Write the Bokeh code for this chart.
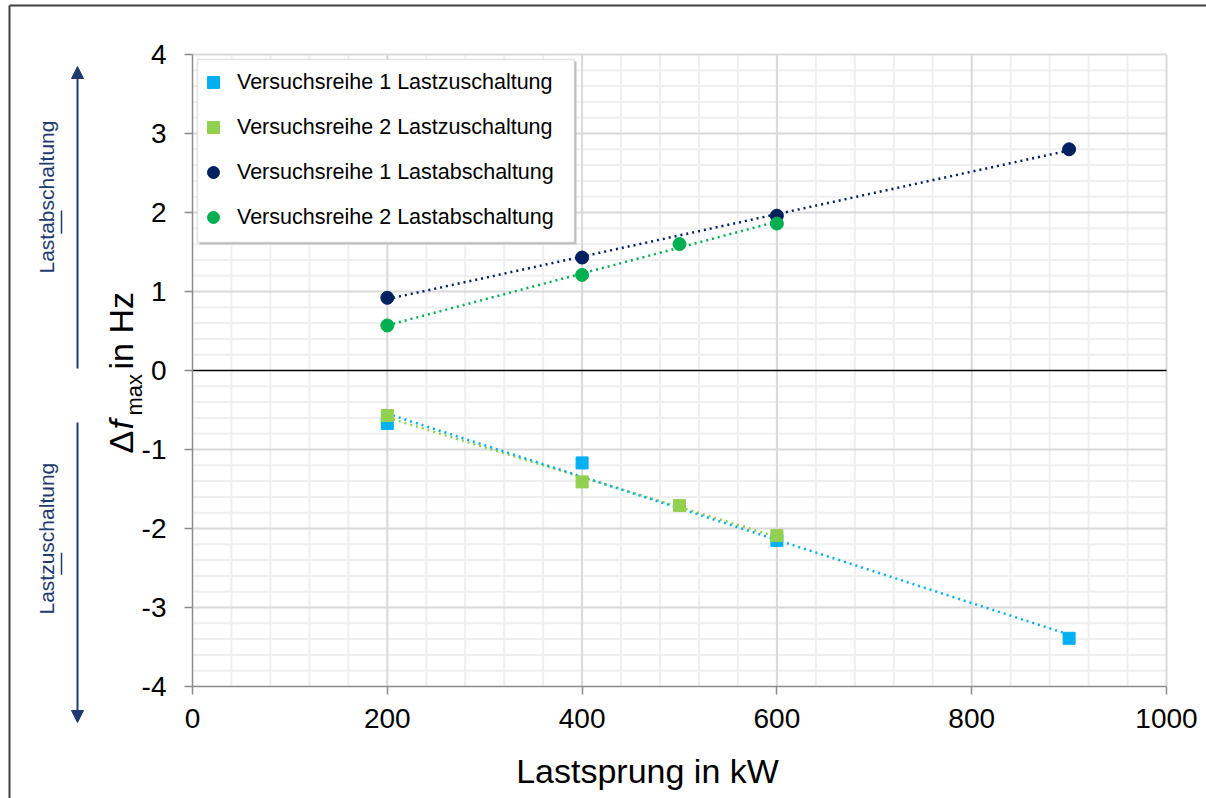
import numpy as np
from bokeh.plotting import figure
from bokeh.models import (Range1d, FixedTicker, Label, Arrow, NormalHead,
                          Legend, BoxAnnotation, CustomJSTickFormatter)
from bokeh.embed import file_html
from bokeh.resources import INLINE

# ---------------- data ----------------
x_r1_zu = [200, 400, 600, 900]
y_r1_zu = [-0.67, -1.17, -2.15, -3.39]
x_r2_zu = [200, 400, 500, 600]
y_r2_zu = [-0.57, -1.41, -1.71, -2.09]
x_r1_ab = [200, 400, 600, 900]
y_r1_ab = [0.92, 1.43, 1.96, 2.80]
x_r2_ab = [200, 400, 500, 600]
y_r2_ab = [0.57, 1.21, 1.60, 1.86]

labels = ["Versuchsreihe 1 Lastzuschaltung", "Versuchsreihe 2 Lastzuschaltung",
          "Versuchsreihe 1 Lastabschaltung", "Versuchsreihe 2 Lastabschaltung"]
x_ticks = [0, 200, 400, 600, 800, 1000]
y_ticks = [-4, -3, -2, -1, 0, 1, 2, 3, 4]

C_BLUE = "#00B0F0"
C_LGREEN = "#92D050"
C_NAVY = "#002060"
C_GREEN = "#00B050"
C_TEXT_NAVY = "#1F3A70"
FONT = "Liberation Sans"

# ---------------- layout ----------------
W, H = 1206, 798
PL, PR, PT, PB = 192, 1166, 54, 686        # plot area in canvas pixels
XMIN, XMAX, YMIN, YMAX = 0, 1000, -4, 4


def dx(px):  # canvas pixel -> data x (annotation placement)
    return XMIN + (px - PL) / (PR - PL) * (XMAX - XMIN)


def dy(py):  # canvas pixel -> data y
    return YMAX - (py - PT) / (PB - PT) * (YMAX - YMIN)


p = figure(width=W, height=H, output_backend="svg", toolbar_location=None,
           x_range=Range1d(dx(0), dx(W)), y_range=Range1d(dy(H), dy(0)),
           min_border=0, min_border_left=0, min_border_right=0,
           min_border_top=0, min_border_bottom=0)
p.outline_line_color = None
p.background_fill_color = "white"
p.border_fill_color = "white"
p.xgrid.visible = False
p.ygrid.visible = False

# ---------------- grid ----------------
minor_x = [v for v in np.arange(XMIN, XMAX + 1, 40) if v not in x_ticks]
minor_y = [round(v, 2) for v in np.arange(YMIN, YMAX + 0.01, 0.2)
           if round(v, 2) not in y_ticks]
p.segment(x0=minor_x, x1=minor_x, y0=YMIN, y1=YMAX, line_color="#EFEFEF",
          line_width=2)
p.segment(x0=XMIN, x1=XMAX, y0=minor_y, y1=minor_y, line_color="#EFEFEF",
          line_width=2)
p.segment(x0=x_ticks[1:], x1=x_ticks[1:], y0=YMIN, y1=YMAX,
          line_color="#D9D9D9", line_width=2)
major_y = [t for t in y_ticks if t not in (0, YMIN)]
p.segment(x0=XMIN, x1=XMAX, y0=major_y, y1=major_y,
          line_color="#D9D9D9", line_width=2)
p.segment(x0=[XMIN], x1=[XMAX], y0=[0], y1=[0], line_color="black",
          line_width=1.5)

# ---------------- axes ----------------
fmt = CustomJSTickFormatter(code="return String(tick);")
p.xaxis.fixed_location = YMIN
p.yaxis.fixed_location = XMIN
p.xaxis.bounds = (XMIN, XMAX)
p.yaxis.bounds = (YMIN, YMAX)
p.xaxis.ticker = FixedTicker(ticks=x_ticks, minor_ticks=[])
p.yaxis.ticker = FixedTicker(ticks=y_ticks, minor_ticks=[])
for ax in (p.xaxis[0], p.yaxis[0]):
    ax.formatter = fmt
    ax.axis_line_color = "#8C8C8C"
    ax.axis_line_width = 1.5
    ax.major_tick_line_color = "#8C8C8C"
    ax.major_tick_line_width = 1.5
    ax.major_tick_out = 8
    ax.major_tick_in = 0
    ax.minor_tick_line_color = None
    ax.major_label_text_font = FONT
    ax.major_label_text_font_size = "28px"
    ax.major_label_text_color = "black"
p.xaxis.major_label_standoff = 14
p.yaxis.major_label_standoff = 18

# ---------------- trend lines ----------------
series = [
    (x_r1_zu, y_r1_zu, C_BLUE),
    (x_r2_zu, y_r2_zu, C_LGREEN),
    (x_r1_ab, y_r1_ab, C_NAVY),
    (x_r2_ab, y_r2_ab, C_GREEN),
]
for order in (1, 0, 2, 3):
    xs, ys, col = series[order]
    k, d = np.polyfit(xs, ys, 1)
    xe = [min(xs), max(xs)]
    p.line(xe, [k * v + d for v in xe], line_color=col, line_width=2.5,
           line_dash="2 4")

# ---------------- markers ----------------
r1 = p.scatter(x_r1_zu, y_r1_zu, marker="square", size=12, color=C_BLUE)
r2 = p.scatter(x_r2_zu, y_r2_zu, marker="square", size=12, color=C_LGREEN)
r3 = p.scatter(x_r1_ab, y_r1_ab, marker="circle", size=13, color=C_NAVY)
r4 = p.scatter(x_r2_ab, y_r2_ab, marker="circle", size=13, color=C_GREEN)

# ---------------- legend ----------------
p.add_layout(BoxAnnotation(left=dx(199), right=dx(576), top=dy(61),
                           bottom=dy(244), fill_color="#BFBFBF",
                           fill_alpha=1.0, line_color=None))
p.add_layout(BoxAnnotation(left=dx(197), right=dx(574), top=dy(59),
                           bottom=dy(242), fill_color="white", fill_alpha=1.0,
                           line_color="#A6A6A6", line_width=1.5))
legend = Legend(items=[(labels[0], [r1]), (labels[1], [r2]),
                       (labels[2], [r3]), (labels[3], [r4])],
                location=(198, H - 232), margin=0, padding=0, spacing=15,
                glyph_width=30, glyph_height=30, label_height=30,
                label_standoff=9,
                label_text_font=FONT, label_text_font_size="21.5px",
                label_text_color="black", label_text_baseline="middle",
                border_line_color=None, background_fill_alpha=0.0)
p.add_layout(legend)

# ---------------- texts ----------------
ang = np.pi / 2
BSHIFT = 0.55   # empirical offset of rotated alphabetic baseline (in em)


def vlabel(base_px, start_py, text, size, color="black", style="normal"):
    p.add_layout(Label(x=dx(base_px - BSHIFT * size), y=dy(start_py),
                       text=text, angle=ang, text_font=FONT,
                       text_font_size=f"{size}px", text_font_style=style,
                       text_color=color, text_align="left",
                       text_baseline="alphabetic"))


vlabel(139, 453, "Δ", 34)
vlabel(139, 429, "f", 34, style="italic")
vlabel(146, 415, "max", 22)
vlabel(139, 369, "in Hz", 34)

p.add_layout(Label(x=dx(647), y=dy(770), text="Lastsprung in kW",
                   text_font=FONT, text_font_size="34px", text_color="black",
                   text_align="center", text_baseline="middle"))

fs = 21
w_last = (0.556 + 0.556 + 0.5 + 0.278) * fs
for txt, start_py, ul_len in (("Lastabschaltung", 273, (0.556 + 0.556) * fs),
                              ("Lastzuschaltung", 614, (0.5 + 0.556) * fs)):
    vlabel(58, start_py, txt, fs, color=C_TEXT_NAVY)
    p.add_layout(Arrow(x_start=dx(61), y_start=dy(start_py - w_last),
                       x_end=dx(61), y_end=dy(start_py - w_last - ul_len),
                       end=None, line_color=C_TEXT_NAVY, line_width=1.5))

head_kw = dict(size=12, fill_color=C_TEXT_NAVY, line_color=C_TEXT_NAVY)
p.add_layout(Arrow(x_start=dx(77), y_start=dy(368), x_end=dx(77), y_end=dy(66),
                   end=NormalHead(**head_kw), line_color=C_TEXT_NAVY,
                   line_width=2))
p.add_layout(Arrow(x_start=dx(77), y_start=dy(422), x_end=dx(77), y_end=dy(722),
                   end=NormalHead(**head_kw), line_color=C_TEXT_NAVY,
                   line_width=2))

# outer chart border (left and top edges visible)
p.add_layout(Arrow(x_start=dx(9), y_start=dy(5), x_end=dx(9), y_end=dy(H + 5),
                   end=None, line_color="#404040", line_width=2))
p.add_layout(Arrow(x_start=dx(9), y_start=dy(5), x_end=dx(W + 5), y_end=dy(5),
                   end=None, line_color="#404040", line_width=2))

open("out.html", "w").write(file_html(p, INLINE))
